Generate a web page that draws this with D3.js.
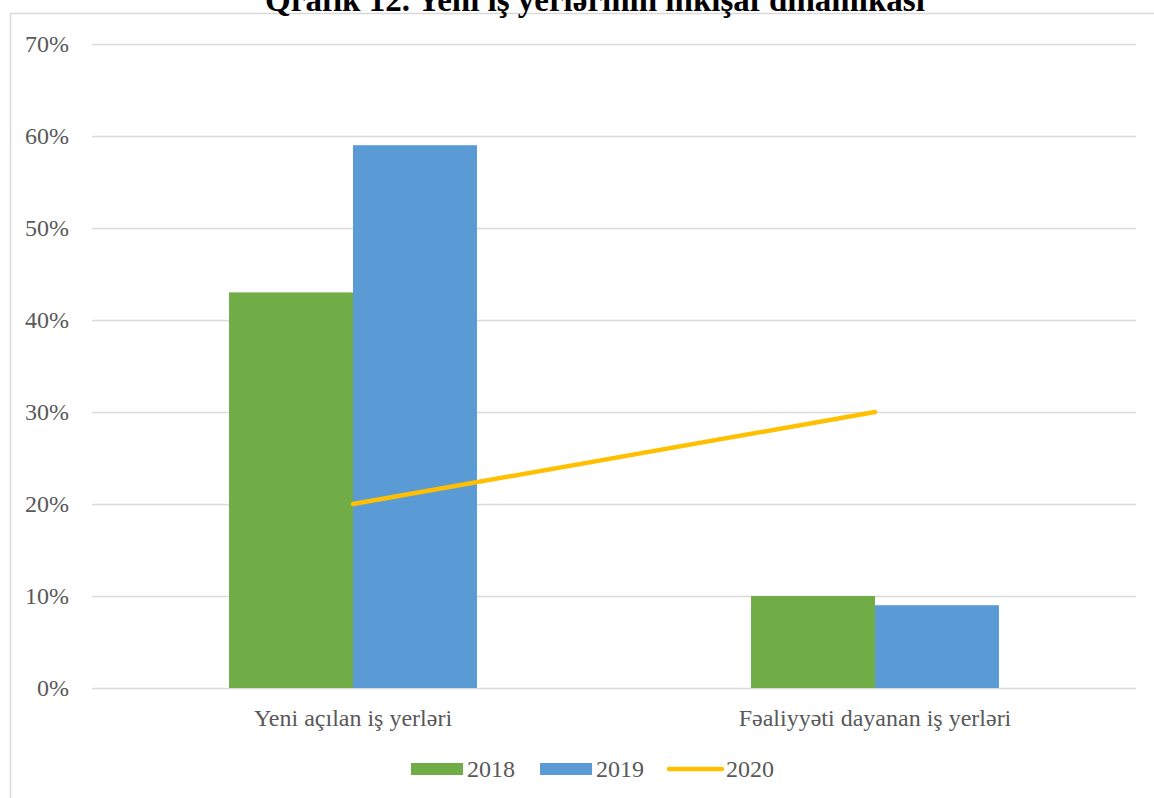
<!DOCTYPE html>
<html>
<head>
<meta charset="utf-8">
<script src="https://cdn.jsdelivr.net/npm/d3@7"></script>
<style>
  html, body { margin: 0; padding: 0; background: #fff; }
  svg { display: block; }
  text { font-family: "Liberation Serif", "Times New Roman", serif; }
</style>
</head>
<body>
<svg id="chart" width="1154" height="798"></svg>
<script>
const title = "Qrafik 12. Yeni iş yerlərinin inkişaf dinamikası";
const categories = ["Yeni açılan iş yerləri", "Fəaliyyəti dayanan iş yerləri"];
const barSeries = ["2018", "2019"];
const values2018 = [0.43, 0.10];
const values2019 = [0.59, 0.09];
const values2020 = [0.20, 0.30];
const yTicks = [0, 0.1, 0.2, 0.3, 0.4, 0.5, 0.6, 0.7];
const colors = { "2018": "#70AD47", "2019": "#5B9BD5", "2020": "#FFC000" };

const svg = d3.select("#chart");
const W = 1154, H = 798;
const plot = { left: 92, right: 1136, top: 44, bottom: 688 };
const FS = 24;

// chart border
svg.append("rect")
  .attr("x", 10.5).attr("y", 13.5)
  .attr("width", W + 20).attr("height", H + 20)
  .attr("fill", "none").attr("stroke", "#d9d9d9").attr("stroke-width", 1.5);

// title (cropped at top, as in the reference)
svg.append("text")
  .attr("x", 595).attr("y", 11)
  .attr("text-anchor", "middle")
  .attr("font-weight", "bold")
  .attr("font-size", 33)
  .attr("fill", "#000")
  .text(title);

const y = d3.scaleLinear().domain([0, 0.7]).range([plot.bottom, plot.top]);
const x0 = d3.scaleBand().domain(categories).range([plot.left, plot.right]).paddingInner(0.525).paddingOuter(0.2625);
const x1 = d3.scaleBand().domain(barSeries).range([0, x0.bandwidth()]);

// gridlines
svg.append("g")
  .selectAll("line").data(yTicks).join("line")
  .attr("x1", plot.left).attr("x2", plot.right)
  .attr("y1", d => Math.round(y(d)) + 0.5).attr("y2", d => Math.round(y(d)) + 0.5)
  .attr("stroke", "#d9d9d9").attr("stroke-width", 1.5);

// y axis labels
const yAxis = d3.axisLeft(y).tickValues(yTicks).tickFormat(d3.format(".0%")).tickSize(0).tickPadding(0);
const gy = svg.append("g").attr("transform", `translate(69,0)`).call(yAxis);
gy.select(".domain").remove();
gy.selectAll("text")
  .attr("font-size", FS).attr("fill", "#595959").attr("dy", "0.33em");

// bars
const data = categories.map((c, i) => ({ cat: c, vals: [
  { key: "2018", v: values2018[i] }, { key: "2019", v: values2019[i] } ] }));

svg.append("g").selectAll("g").data(data).join("g")
  .attr("transform", d => `translate(${x0(d.cat)},0)`)
  .selectAll("rect").data(d => d.vals).join("rect")
  .attr("x", d => x1(d.key)).attr("width", x1.bandwidth())
  .attr("y", d => y(d.v)).attr("height", d => y(0) - y(d.v))
  .attr("fill", d => colors[d.key]);

// line 2020
const line = d3.line()
  .x((d, i) => x0(categories[i]) + x0.bandwidth() / 2)
  .y(d => y(d));
svg.append("path").datum(values2020)
  .attr("d", line).attr("fill", "none")
  .attr("stroke", colors["2020"]).attr("stroke-width", 4.5)
  .attr("stroke-linecap", "round");

// x axis labels
const xAxis = d3.axisBottom(x0).tickSize(0).tickPadding(0);
const gx = svg.append("g").attr("transform", `translate(0,${plot.bottom})`).call(xAxis);
gx.select(".domain").remove();
gx.selectAll("text")
  .attr("font-size", FS).attr("fill", "#595959").attr("y", 38).attr("dy", 0);

// legend
const legendItems = [
  { key: "2018", type: "rect", x: 411 },
  { key: "2019", type: "rect", x: 540 },
  { key: "2020", type: "line", x: 667 }
];
const lg = svg.append("g");
legendItems.forEach(it => {
  if (it.type === "rect") {
    lg.append("rect").attr("x", it.x).attr("y", 763).attr("width", 52).attr("height", 12).attr("fill", colors[it.key]);
    lg.append("text").attr("x", it.x + 56).attr("y", 777).attr("font-size", FS).attr("fill", "#595959").text(it.key);
  } else {
    lg.append("line").attr("x1", it.x + 2).attr("x2", it.x + 55).attr("y1", 769).attr("y2", 769)
      .attr("stroke", colors[it.key]).attr("stroke-width", 4.5).attr("stroke-linecap", "round");
    lg.append("text").attr("x", it.x + 59).attr("y", 777).attr("font-size", FS).attr("fill", "#595959").text(it.key);
  }
});
</script>
</body>
</html>
